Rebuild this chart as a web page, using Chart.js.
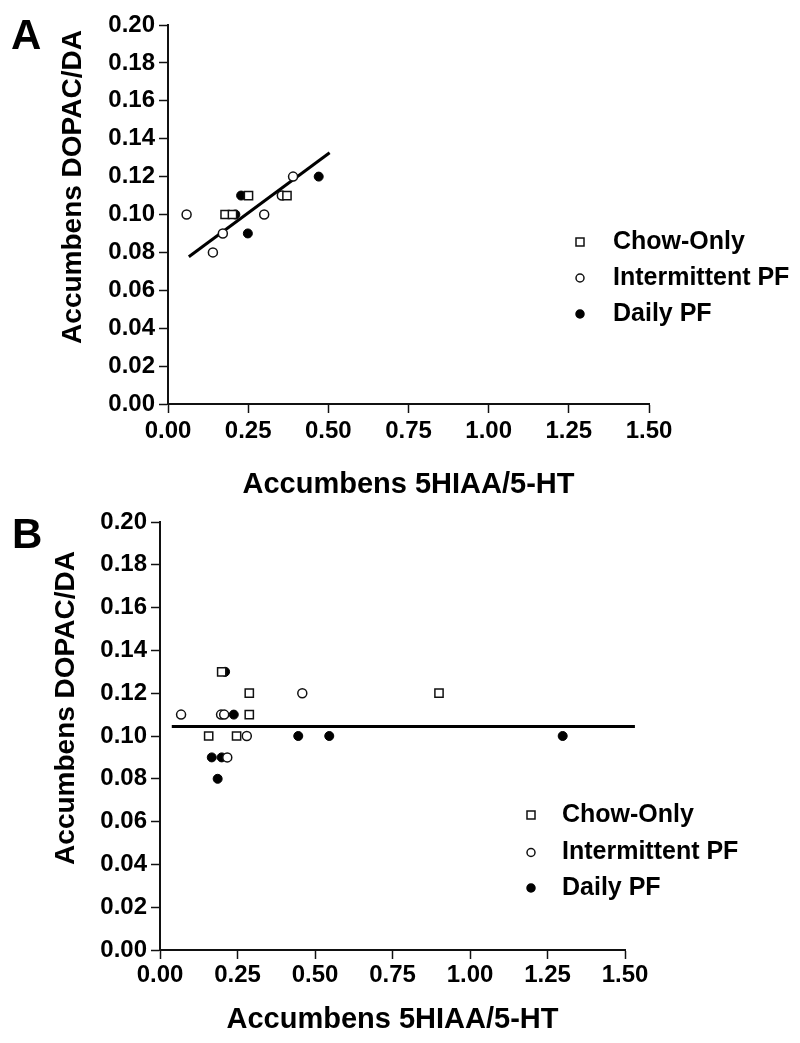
<!DOCTYPE html>
<html>
<head>
<meta charset="utf-8">
<script src="https://cdn.jsdelivr.net/npm/chart.js@4.4.1/dist/chart.umd.min.js"></script>
<style>
  html, body { margin: 0; padding: 0; background: #fff; }
  body { width: 800px; height: 1043px; position: relative; overflow: hidden;
         font-family: 'Liberation Sans', Arial, sans-serif; }
  .panel { position: absolute; left: 0; width: 800px; }
  #wrapA { top: 0; height: 510px; }
  #wrapB { top: 480px; height: 563px; }
  .tag { position: absolute; font-weight: bold; font-size: 42px; line-height: 1; color: #000; }
</style>
</head>
<body>
<div class="panel" id="wrapA"><canvas id="chartA" width="800" height="510"></canvas></div>
<div class="panel" id="wrapB"><canvas id="chartB" width="800" height="563"></canvas></div>
<div class="tag" style="left:11px;top:14px">A</div>
<div class="tag" style="left:12px;top:513px">B</div>

<script>
'use strict';

// ─── DATA ─────────────────────────────────────────────────────

const SERIES_NAMES = ['Chow-Only', 'Intermittent PF', 'Daily PF'];
const X_TITLE = 'Accumbens 5HIAA/5-HT';
const Y_TITLE = 'Accumbens DOPAC/DA';

const X_TICKS = [0.00, 0.25, 0.50, 0.75, 1.00, 1.25, 1.50];
const Y_TICKS = [0.00, 0.02, 0.04, 0.06, 0.08, 0.10, 0.12, 0.14, 0.16, 0.18, 0.20];

// panel A
const A_CHOW_X  = [0.178, 0.201, 0.251, 0.371];
const A_CHOW_Y  = [0.10, 0.10, 0.11, 0.11];
const A_INT_X   = [0.058, 0.14, 0.171, 0.30, 0.355, 0.39];
const A_INT_Y   = [0.10, 0.08, 0.09, 0.10, 0.11, 0.12];
const A_DAILY_X = [0.21, 0.228, 0.249, 0.47];
const A_DAILY_Y = [0.10, 0.11, 0.09, 0.12];
const A_FIT_X   = [0.065, 0.504];
const A_FIT_Y   = [0.0777, 0.1326];

// panel B
const B_CHOW_X  = [0.199, 0.288, 0.288, 0.157, 0.247, 0.90];
const B_CHOW_Y  = [0.13, 0.12, 0.11, 0.10, 0.10, 0.12];
const B_INT_X   = [0.068, 0.197, 0.207, 0.459, 0.280, 0.217];
const B_INT_Y   = [0.11, 0.11, 0.11, 0.12, 0.10, 0.09];
const B_DAILY_X = [0.21, 0.238, 0.446, 0.546, 1.299, 0.167, 0.199, 0.186];
const B_DAILY_Y = [0.13, 0.11, 0.10, 0.10, 0.10, 0.09, 0.09, 0.08];
const B_FIT_X   = [0.038, 1.532];
const B_FIT_Y   = [0.1044, 0.1044];

// ─── HELPERS ──────────────────────────────────────────────────

const FONT = "'Liberation Sans', Arial, sans-serif";
const INK = '#111';

const zip = (xs, ys) => xs.map((x, i) => ({ x, y: ys[i] }));

const STYLES = [
  { pointStyle: 'rect',   radius: 5.8, fill: '#fff', stroke: INK, width: 1.5 },
  { pointStyle: 'circle', radius: 4.5, fill: '#fff', stroke: INK, width: 1.5 },
  { pointStyle: 'circle', radius: 4.5, fill: '#000', stroke: '#000', width: 1 },
];

function pointSet(i, xs, ys) {
  const s = STYLES[i];
  return {
    label: SERIES_NAMES[i],
    data: zip(xs, ys),
    pointStyle: s.pointStyle,
    pointRadius: s.radius,
    pointBackgroundColor: s.fill,
    pointBorderColor: s.stroke,
    pointBorderWidth: s.width,
    showLine: false,
  };
}

function fitSet(xs, ys) {
  return {
    label: 'fit',
    data: zip(xs, ys),
    showLine: true,
    borderColor: '#000',
    borderWidth: 3,
    pointRadius: 0,
    clip: false,
  };
}

// rotated y title, drawn by hand so it can sit off-centre like the original
const yTitlePlugin = {
  id: 'yTitle',
  afterDraw(chart, args, o) {
    const ctx = chart.ctx;
    ctx.save();
    ctx.translate(o.x, o.y);
    ctx.rotate(-Math.PI / 2);
    ctx.font = `bold ${o.size}px ${FONT}`;
    ctx.fillStyle = '#000';
    ctx.textAlign = 'center';
    ctx.textBaseline = 'middle';
    ctx.fillText(o.text, 0, 0);
    ctx.restore();
  }
};

// legend sitting inside the plot, marker then label
const markLegendPlugin = {
  id: 'markLegend',
  afterDraw(chart, args, o) {
    const ctx = chart.ctx;
    ctx.save();
    ctx.font = `bold ${o.size}px ${FONT}`;
    ctx.textBaseline = 'middle';
    ctx.textAlign = 'left';
    SERIES_NAMES.forEach((name, i) => {
      const s = STYLES[i];
      const y = o.rows[i];
      ctx.fillStyle = s.fill;
      ctx.strokeStyle = s.stroke;
      ctx.lineWidth = 1.5;
      ctx.beginPath();
      if (s.pointStyle === 'rect') ctx.rect(o.x - 4, y - 4, 8, 8);
      else ctx.arc(o.x, y, 4, 0, Math.PI * 2);
      ctx.fill();
      ctx.stroke();
      ctx.fillStyle = '#000';
      ctx.fillText(name, o.textX, y);
    });
    ctx.restore();
  }
};

function scales(o) {
  const tickFont = { family: FONT, size: 24, weight: 'bold' };
  const axisBits = {
    grid: { drawOnChartArea: false, drawTicks: true, tickLength: 9, tickWidth: 1.5, color: INK },
    border: { display: true, color: INK, width: 2 },
  };
  return {
    x: {
      type: 'linear',
      min: 0, max: 1.5,
      afterBuildTicks: s => { s.ticks = X_TICKS.map(v => ({ value: v })); },
      afterFit: s => { s.height = o.xh; },
      ...axisBits,
      ticks: { font: tickFont, color: '#000', padding: o.xpad, maxRotation: 0, autoSkip: false,
               callback: v => v.toFixed(2) },
      title: { display: true, text: X_TITLE, color: '#000',
               font: { family: FONT, size: 29, weight: 'bold' },
               padding: { top: 0, bottom: o.tpad } }
    },
    y: {
      type: 'linear',
      min: 0, max: 0.2,
      afterBuildTicks: s => { s.ticks = Y_TICKS.map(v => ({ value: v })); },
      afterFit: s => { s.width = o.yw; },
      ...axisBits,
      ticks: { font: tickFont, color: '#000', padding: 4, autoSkip: false,
               callback: v => v.toFixed(2) },
      title: { display: false }
    }
  };
}

function makePanel(id, sets, o) {
  return new Chart(document.getElementById(id), {
    type: 'scatter',
    data: { datasets: sets },
    options: {
      responsive: false,
      animation: false,
      layout: { padding: o.pad },
      plugins: {
        legend: { display: false },
        tooltip: { enabled: false },
        yTitle: { text: Y_TITLE, size: 28, x: o.titleX, y: o.titleY },
        markLegend: { size: 25, x: o.legX, textX: o.legTextX, rows: o.legRows }
      },
      scales: scales(o)
    },
    plugins: [yTitlePlugin, markLegendPlugin]
  });
}

// ─── PANELS ───────────────────────────────────────────────────

makePanel('chartA', [
  pointSet(0, A_CHOW_X, A_CHOW_Y),
  pointSet(1, A_INT_X, A_INT_Y),
  pointSet(2, A_DAILY_X, A_DAILY_Y),
  fitSet(A_FIT_X, A_FIT_Y),
], {
  pad: { left: 0, top: 25, right: 151, bottom: 0 },
  yw: 168, xh: 106, xpad: 3.5, tpad: 7.5,
  titleX: 73, titleY: 187,
  legX: 580, legTextX: 613, legRows: [242, 278, 314]
});

makePanel('chartB', [
  pointSet(0, B_CHOW_X, B_CHOW_Y),
  pointSet(1, B_INT_X, B_INT_Y),
  pointSet(2, B_DAILY_X, B_DAILY_Y),
  fitSet(B_FIT_X, B_FIT_Y),
], {
  pad: { left: 0, top: 42, right: 175, bottom: 0 },
  yw: 160, xh: 93, xpad: 2, tpad: 5.5,
  titleX: 66, titleY: 228,
  legX: 531, legTextX: 562, legRows: [335, 372.5, 408]
});
</script>
</body>
</html>
